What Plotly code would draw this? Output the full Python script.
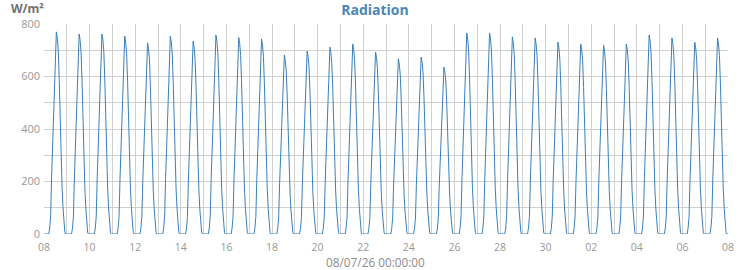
import pandas as pd
import plotly.graph_objects as go

# Daily peak radiation (W/m²), 8 June -> 7 July 2026
days = pd.date_range("2026-06-08", "2026-07-07", freq="D")
daily_peak = [770, 762, 762, 754, 728, 754, 735, 758, 748, 743,
              682, 697, 712, 724, 693, 667, 674, 636, 766, 766,
              751, 747, 731, 724, 720, 724, 758, 747, 731, 747]

# Typical hourly shape of one day (fraction of daily peak)
hour_shape = [0, 0, 0, 0, 0, 0, 0.03, 0.09, 0.28, 0.45, 0.60, 0.77,
              0.92, 1.0, 0.97, 0.91, 0.77, 0.57, 0.40, 0.23, 0.13, 0.05, 0.006, 0]

times, values = [], []
for d, pk in zip(days, daily_peak):
    for h, f in enumerate(hour_shape):
        times.append(d + pd.Timedelta(hours=h))
        values.append(round(pk * f, 1))
times.append(pd.Timestamp("2026-07-08 00:00"))
values.append(0)

x_range = ["2026-06-08 00:00", "2026-07-08 00:00"]
y_ticks = [0, 200, 400, 600, 800]

fig = go.Figure(go.Scatter(x=times, y=values, mode="lines",
                           line=dict(color="#3a80ba", width=1),
                           hoverinfo="x+y"))

grid = "#d0d0d0"
fig.update_layout(
    width=750, height=270,
    margin=dict(l=44, r=22, t=24, b=36),
    paper_bgcolor="white", plot_bgcolor="white",
    font=dict(family="Open Sans", color="#999999", size=11),
    showlegend=False,
    title=dict(text="<b>Radiation</b>", x=0.5, xref="container", xanchor="center",
               y=1 - 10 / 270, yref="container", yanchor="middle",
               font=dict(family="Open Sans", size=14, color="#4a86b8")),
    xaxis=dict(range=x_range, type="date", dtick=2 * 86400000,
               tick0="2026-06-08", tickformat="%d",
               showgrid=True, gridcolor=grid, gridwidth=1,
               minor=dict(dtick=86400000, showgrid=True, gridcolor=grid, gridwidth=1),
               zeroline=False, showline=False, ticks="",
               ticklabelstandoff=5,
               tickfont=dict(size=10.5, color="#999999")),
    yaxis=dict(range=[0, 800], tickvals=y_ticks,
               showgrid=True, gridcolor=grid, gridwidth=1,
               minor=dict(dtick=100, showgrid=True, gridcolor=grid, gridwidth=1),
               zeroline=False, showline=False, ticks="",
               ticklabelstandoff=3,
               tickfont=dict(size=11, color="#999999")),
    annotations=[
        dict(text="<b>W/m²</b>", xref="paper", yref="paper",
             x=(10 - 44) / 684, y=1 + (24 - 8.5) / 210,
             xanchor="left", yanchor="middle", showarrow=False, borderpad=0,
             font=dict(family="Open Sans", size=12, color="#707070")),
        dict(text="08/07/26 00:00:00", xref="paper", yref="paper",
             x=(375 - 44) / 684, y=-(261.5 - 234) / 210,
             xanchor="center", yanchor="middle", showarrow=False, borderpad=0,
             font=dict(family="Open Sans", size=11.8, color="#8c8c8c")),
    ],
)

fig.write_html("out.html")
